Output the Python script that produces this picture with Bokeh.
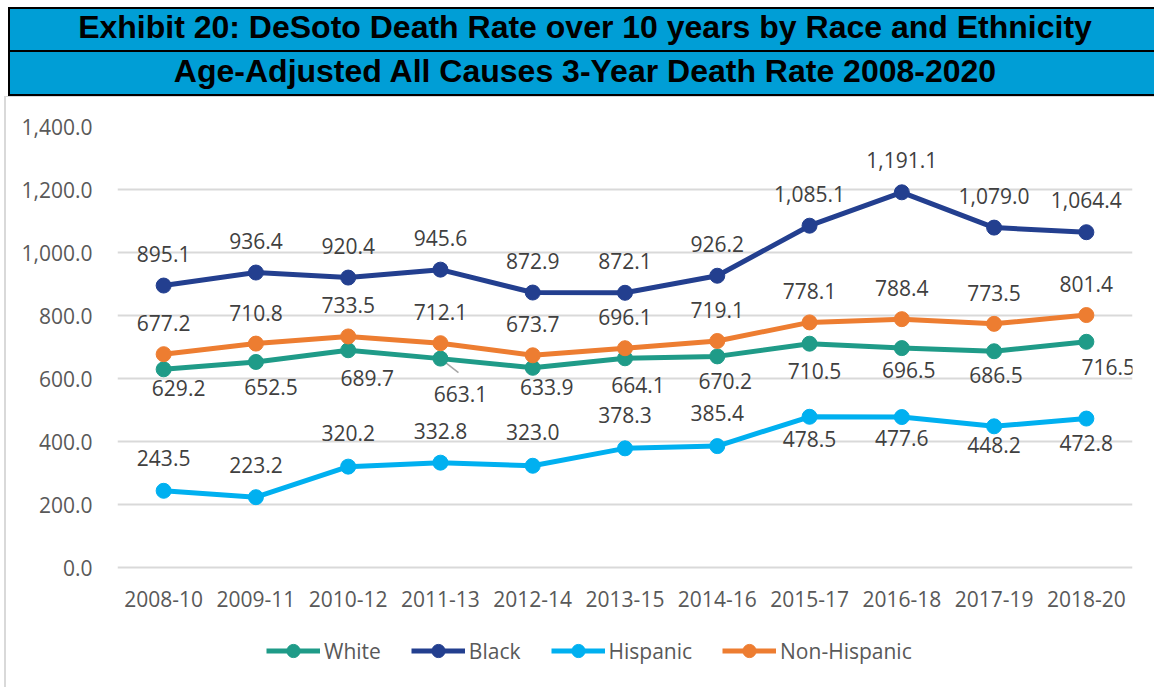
from bokeh.plotting import figure
from bokeh.models import (ColumnDataSource, Range1d, FactorRange, NumeralTickFormatter,
                          LabelSet, Legend, LegendItem, FixedTicker, Div)
from bokeh.layouts import column
from bokeh.core.properties import value
from bokeh.embed import file_html
from bokeh.resources import INLINE

# ---------------- data ----------------
periods = ["2008-10", "2009-11", "2010-12", "2011-13", "2012-14", "2013-15",
           "2014-16", "2015-17", "2016-18", "2017-19", "2018-20"]
white = [629.2, 652.5, 689.7, 663.1, 633.9, 664.1, 670.2, 710.5, 696.5, 686.5, 716.5]
black = [895.1, 936.4, 920.4, 945.6, 872.9, 872.1, 926.2, 1085.1, 1191.1, 1079.0, 1064.4]
hispanic = [243.5, 223.2, 320.2, 332.8, 323.0, 378.3, 385.4, 478.5, 477.6, 448.2, 472.8]
non_hispanic = [677.2, 710.8, 733.5, 712.1, 673.7, 696.1, 719.1, 778.1, 788.4, 773.5, 801.4]
y_ticks = [0, 200, 400, 600, 800, 1000, 1200, 1400]
series_names = ["White", "Black", "Hispanic", "Non-Hispanic"]
title_line1 = "Exhibit 20: DeSoto Death Rate over 10 years by Race and Ethnicity"
title_line2 = "Age-Adjusted All Causes 3-Year Death Rate 2008-2020"

# ---------------- label placement (screen pixels, +y = up) ----------------
white_dx = [15, 15, 19, 20, 14, 13, 8, 5, 7, 2, 22]
white_dy = [-19, -25, -28, -35, -19, -27, -25, -27, -22, -24, -25]
black_dx = [0] * 11
black_dy = [32] * 11
hisp_dx = [0] * 11
hisp_dy = [33, 32, 34, 32, 34, 33, 33, -22, -21, -19, -24]
nonh_dx = [0] * 11
nonh_dy = [31] * 11

# ---------------- styles / layout ----------------
FONT = "Open Sans"
HEADER_FONT = "Liberation Sans"
colors = ["#1F9B88", "#233F8F", "#00B0F0", "#ED7D31"]
W = 1154
HDR_H = 97
MAIN_H = 590
BL, BR, BT, BB = 117, 22, 29, 5
FRAME_W = W - BL - BR
FRAME_H = MAIN_H - BT - BB
VALUE_PX = 441                      # pixel height of the 0..1400 value band
Y_MAX = y_ticks[-1]
Y_MIN = Y_MAX - FRAME_H * Y_MAX / VALUE_PX   # extra room below 0 for tick labels + legend

# ---------------- header (two blue title bars) ----------------
bar_css = ("position:absolute;left:8px;width:1154px;box-sizing:border-box;"
           "background:#009ED6;border:2px solid #000;text-align:center;"
           "font-family:'%s',Arial,sans-serif;font-weight:bold;font-size:32px;"
           "color:#000;white-space:nowrap;" % HEADER_FONT)
hdr_html = (
    '<div style="position:relative;width:%dpx;height:%dpx;overflow:hidden;">' % (W, HDR_H)
    + '<div style="%stop:7px;height:45px;line-height:36px;padding-top:0px;">%s</div>' % (bar_css, title_line1)
    + '<div style="%stop:50px;height:46px;line-height:36px;padding-top:1px;">%s</div>' % (bar_css, title_line2)
    + '<div style="position:absolute;left:4px;top:96px;width:1160px;height:0;'
      'border-top:1.5px solid #D9D9D9;"></div>'
    + '</div>'
)
hdr = Div(text=hdr_html, width=W, height=HDR_H, margin=(0, 0, 0, 0))

# ---------------- main chart ----------------
p = figure(width=W, height=MAIN_H, x_range=FactorRange(factors=periods, range_padding=0),
           y_range=Range1d(Y_MIN, Y_MAX), output_backend="svg", toolbar_location=None,
           x_axis_location=None,
           min_border_left=BL, min_border_right=BR, min_border_top=BT, min_border_bottom=BB,
           margin=(0, 0, 0, 0))
# chart-area frame line on the left (drawn by the page behind a transparent border)
p.border_fill_color = None
p.styles = {"background-image":
            "linear-gradient(to right, transparent 4px, #D9D9D9 4px, #D9D9D9 6px, transparent 6px)"}
p.outline_line_color = None
p.background_fill_color = "white"
p.xgrid.visible = False
p.ygrid.grid_line_color = "#D9D9D9"
p.ygrid.grid_line_width = 2
p.yaxis.ticker = FixedTicker(ticks=y_ticks)
p.yaxis.formatter = NumeralTickFormatter(format="0,0.0")
p.yaxis.axis_line_color = None
p.yaxis.major_tick_line_color = None
p.yaxis.minor_tick_line_color = None
p.yaxis.major_label_text_font = FONT
p.yaxis.major_label_text_font_size = "21px"
p.yaxis.major_label_text_color = "#595959"
p.yaxis.major_label_standoff = 19

# category (x) tick labels, placed under the 0 line
xsrc = ColumnDataSource(dict(x=periods, y=[y_ticks[0]] * len(periods), text=periods))
p.add_layout(LabelSet(x="x", y="y", text="text", source=xsrc, y_offset=-31,
                      text_align="center", text_baseline="middle",
                      text_font=value(FONT), text_font_size="21px", text_color="#595959"))

# leader line for the shifted White label (2011-13)
px_per_val = VALUE_PX / Y_MAX
px_per_cat = FRAME_W / len(periods)
p.segment(x0=[(periods[3], 0.0)], y0=[white[3]],
          x1=[(periods[3], 18 / px_per_cat)], y1=[white[3] - 14 / px_per_val],
          line_color="#A6A6A6", line_width=1.5)

all_vals = [white, black, hispanic, non_hispanic]
all_dx = [white_dx, black_dx, hisp_dx, nonh_dx]
all_dy = [white_dy, black_dy, hisp_dy, nonh_dy]
items = []
for name, vals, col, dx, dy in zip(series_names, all_vals, colors, all_dx, all_dy):
    src = ColumnDataSource(dict(x=periods, y=vals,
                                text=[f"{v:,.1f}" for v in vals], dx=dx, dy=dy))
    lr = p.line("x", "y", source=src, line_color=col, line_width=5, line_join="round")
    sr = p.scatter("x", "y", source=src, size=15, fill_color=col, line_color=col)
    labels = LabelSet(x="x", y="y", text="text", x_offset="dx", y_offset="dy", source=src,
                      text_align="center", text_baseline="middle",
                      text_font=value(FONT), text_font_size="21px", text_color="#404040")
    p.add_layout(labels)
    items.append(LegendItem(label=name, renderers=[lr, sr]))

legend = Legend(items=items, orientation="horizontal", location=(149, 15),
                glyph_width=54, glyph_height=33, label_standoff=4, spacing=30,
                padding=0, margin=0, border_line_color=None, background_fill_alpha=0,
                label_text_font=FONT, label_text_font_size="21px",
                label_text_color="#595959")
p.add_layout(legend)

layout = column(hdr, p, margin=(0, 0, 0, 0))
open("out.html", "w").write(file_html(layout, INLINE))
